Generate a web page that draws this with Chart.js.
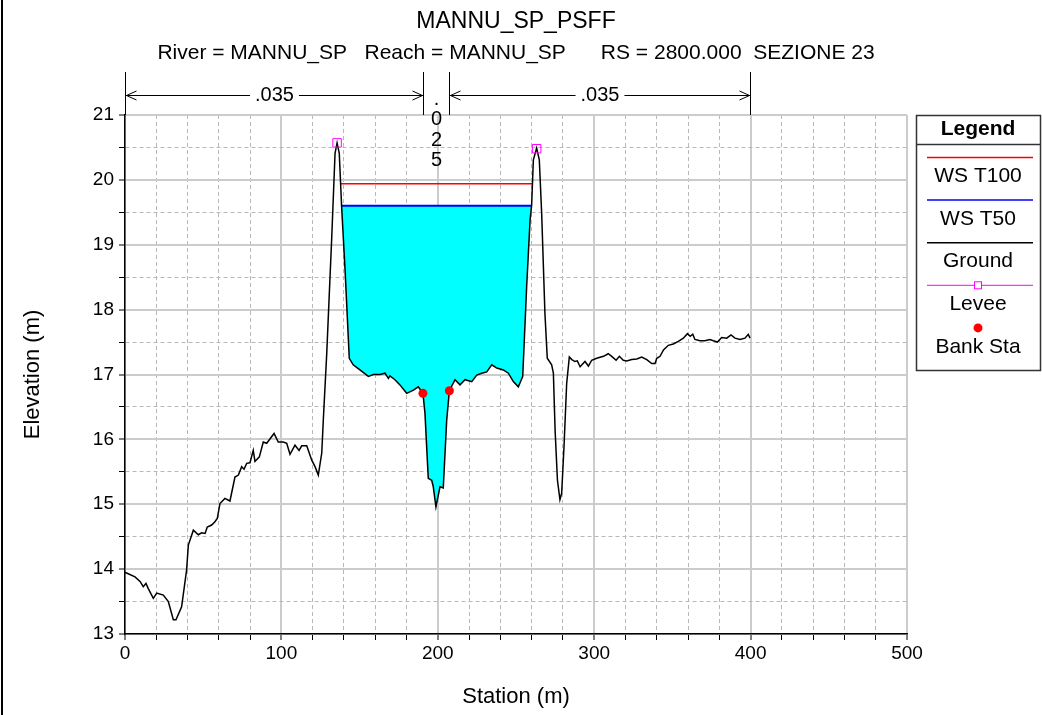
<!DOCTYPE html>
<html>
<head>
<meta charset="utf-8">
<script src="https://cdn.jsdelivr.net/npm/chart.js@4.4.0/dist/chart.umd.min.js"></script>
<style>
html,body{margin:0;padding:0;background:#fff;}
canvas{display:block;}
</style>
</head>
<body>
<canvas id="c" width="1042" height="715"></canvas>
<script>
// cross section MANNU_SP, RS 2800 (station m / elevation m)
const groundSta = [0,1,6.4,9.6,11.7,13.4,14.9,18.1,20.3,24.5,27.7,30.9,32.6,36.2,39.4,40.5,43.7,46.9,49,51.2,
  52.6,55.4,57.5,59,60.7,63.9,67.1,70.3,72.5,74.6,76.1,77.8,79.9,82,83.1,85.9,88.4,90.6,95.3,98,
  101.2,103.4,105.5,108.7,111.3,113,116.2,119.4,121.5,123.6,125.8,126.8,129,131.1,132.2,134.3,135.6,137,138.5,140.7,
  143.4,145.9,150.2,155.6,158.8,163,166.2,168.4,169.4,172.6,175.8,180.1,184.4,187.5,190.5,191.8,193.9,196.1,197.1,198.8,
  201.4,203.5,205.7,207.4,211,214.2,217.4,221.7,224.9,228.1,231.3,234.5,237.7,241.9,245.1,248.3,251.5,254.3,256.8,259,
  260,261.1,263.2,264.9,266.4,268.5,270,272.8,273.9,275,276.5,278.1,279.2,280.7,282.4,284.1,285.7,287.7,289.2,291,
  294.1,296.3,298.4,301.6,305.9,309,311.2,314,316.1,318.6,320.8,324,327.2,330.4,333.6,336.8,338.9,340,342.1,344.3,
  347.4,350.6,353.8,357,359.6,361.4,363,364.4,367.6,370.8,374,376.2,378.8,381.5,384.7,387.5,390,393.2,396.4,398.5,399.6];
const groundElev = [13.95,13.94,13.88,13.81,13.73,13.78,13.70,13.55,13.63,13.60,13.50,13.22,13.22,13.42,13.99,14.37,14.60,14.53,14.56,14.55,
  14.65,14.68,14.73,14.78,15.01,15.09,15.05,15.42,15.45,15.58,15.54,15.63,15.64,15.83,15.66,15.73,15.96,15.94,16.09,15.96,
  15.96,15.94,15.77,15.91,15.83,15.90,15.90,15.68,15.58,15.45,15.79,16.30,17.33,18.51,19.12,20.41,20.57,20.41,19.59,18.61,
  17.25,17.15,17.07,16.97,17.00,17.00,17.02,16.94,16.98,16.92,16.84,16.71,16.76,16.81,16.71,16.40,15.40,15.37,15.27,14.96,
  15.27,15.25,16.30,16.75,16.92,16.84,16.92,16.89,16.99,17.02,17.04,17.15,17.10,17.07,17.02,16.89,16.81,16.97,18.35,19.38,
  19.61,20.31,20.49,20.31,19.49,17.94,17.25,17.15,17.02,16.14,15.37,15.07,15.17,15.89,16.86,17.27,17.23,17.20,17.21,17.12,
  17.20,17.13,17.22,17.25,17.28,17.32,17.28,17.22,17.28,17.22,17.21,17.23,17.24,17.27,17.23,17.17,17.17,17.25,17.28,17.38,
  17.45,17.47,17.51,17.56,17.63,17.59,17.62,17.54,17.52,17.52,17.54,17.52,17.50,17.57,17.56,17.61,17.56,17.54,17.56,17.62,17.56];

const wsT100Elev = 19.94, wsT100Sta = [137.9, 260.6];
const wsT50Elev = 19.60, wsT50Sta = [138.5, 260.0];
const leveeSta = [135.6, 263.2], leveeElev = [20.57, 20.48];
const bankSta = [190.5, 207.4], bankElev = [16.71, 16.75];
const nBreaks = [0, 190.5, 207.4, 399.6];
const nValues = ['.035', '.025', '.035'];
const titleText = 'MANNU_SP_PSFF';
const subtitleText = 'River = MANNU_SP   Reach = MANNU_SP      RS = 2800.000  SEZIONE 23';

const FONT = '"Liberation Sans", Arial, sans-serif';

const pts = (xs, ys) => xs.map((x, i) => ({x, y: ys[i]}));
const ground = pts(groundSta, groundElev);

// wetted polygon under WS T50
const wet = ground.filter(p => p.x >= wsT50Sta[0] && p.x <= wsT50Sta[1]);
wet.push({x: wsT50Sta[1], y: wsT50Elev}, {x: wsT50Sta[0], y: wsT50Elev});

const datasets = [
  {label:'Bank Sta', data: pts(bankSta, bankElev), showLine:false, pointStyle:'circle',
   pointRadius:4.5, backgroundColor:'#ff0000', borderColor:'#ff0000', borderWidth:0},
  {label:'Levee', data: pts(leveeSta, leveeElev), showLine:false, pointStyle:'rect',
   pointRadius:6, backgroundColor:'rgba(0,0,0,0)', borderColor:'#ff00ff', borderWidth:1},
  {label:'Ground', data: ground, showLine:true, borderColor:'#000', borderWidth:1.5, pointRadius:0},
  {label:'WS T50', data: pts(wsT50Sta, [wsT50Elev, wsT50Elev]), showLine:true, borderColor:'#0000ff', borderWidth:2, pointRadius:0},
  {label:'WS T100', data: pts(wsT100Sta, [wsT100Elev, wsT100Elev]), showLine:true, borderColor:'#ff0000', borderWidth:1.5, pointRadius:0},
  {label:'', data: wet, showLine:true, fill:'shape', backgroundColor:'#00ffff', borderWidth:0, pointRadius:0}
];

const legendOrder = ['WS T100', 'WS T50', 'Ground', 'Levee', 'Bank Sta'];

const extras = {
  id:'extras',
  afterDraw(chart){
    const {ctx, chartArea:ca, scales:{x}} = chart;
    ctx.save();
    // left frame
    ctx.fillStyle='#000';
    ctx.fillRect(1,0,2,715);
    // titles
    const cx = (ca.left + ca.right) / 2;
    ctx.textAlign='center'; ctx.textBaseline='middle';
    ctx.font = '23px ' + FONT;
    ctx.fillText(titleText, cx, 22);
    ctx.font = '21px ' + FONT;
    ctx.fillText(subtitleText, cx, 53);

    // manning's n
    ctx.strokeStyle='#000'; ctx.lineWidth=1;
    ctx.font = '20px ' + FONT;
    const yA = 95;
    const px = nBreaks.map(v => Math.round(x.getPixelForValue(v)) + 0.5);
    px.forEach(p => { ctx.beginPath(); ctx.moveTo(p, 72); ctx.lineTo(p, ca.top); ctx.stroke(); });
    nValues.forEach((t, i) => {
      const a = px[i], b = px[i+1], w = ctx.measureText(t).width;
      if (b - a > w + 40) {
        const c = (a + b) / 2;
        ctx.fillText(t, c, yA);
        ctx.beginPath();
        ctx.moveTo(a, yA+0.5); ctx.lineTo(c - w/2 - 5, yA+0.5);
        ctx.moveTo(c + w/2 + 5, yA+0.5); ctx.lineTo(b, yA+0.5);
        ctx.moveTo(a+11, yA-4); ctx.lineTo(a+1, yA+0.5); ctx.lineTo(a+11, yA+5);
        ctx.moveTo(b-11, yA-4); ctx.lineTo(b-1, yA+0.5); ctx.lineTo(b-11, yA+5);
        ctx.stroke();
      } else {
        const c = (a + b) / 2;
        t.split('').forEach((ch, k) => ctx.fillText(ch, c, 99 + k*20.5));
      }
    });

    // legend box
    const L = 916, R = 1040, T = 115, B = 370;
    ctx.lineWidth = 1.5; ctx.strokeStyle = '#333';
    ctx.strokeRect(L+0.5, T+0.5, R-L, B-T);
    ctx.beginPath(); ctx.moveTo(L, 144.5); ctx.lineTo(R, 144.5); ctx.stroke();
    ctx.fillStyle='#000';
    ctx.font = 'bold 21px ' + FONT;
    ctx.fillText('Legend', (L+R)/2, 129);
    ctx.font = '21px ' + FONT;
    const mid = (L+R)/2;
    legendOrder.forEach((name, i) => {
      const ds = chart.data.datasets.find(d => d.label === name);
      const ym = 157.5 + i*42.6;
      if (ds.showLine) {
        ctx.strokeStyle = ds.borderColor; ctx.lineWidth = 1.5;
        ctx.beginPath(); ctx.moveTo(927, ym); ctx.lineTo(1033, ym); ctx.stroke();
      } else if (ds.pointStyle === 'rect') {
        ctx.strokeStyle = ds.borderColor; ctx.lineWidth = 1;
        ctx.beginPath(); ctx.moveTo(927, ym); ctx.lineTo(1033, ym); ctx.stroke();
        ctx.fillStyle = '#fff';
        ctx.fillRect(mid-4, ym-4, 8, 8);
        ctx.strokeRect(mid-3.5, ym-3.5, 7, 7);
      } else {
        ctx.fillStyle = ds.backgroundColor;
        ctx.beginPath(); ctx.arc(mid, ym, 4.5, 0, Math.PI*2); ctx.fill();
      }
      ctx.fillStyle = '#000';
      ctx.fillText(name, mid, ym + 19);
    });
    ctx.restore();
  }
};

new Chart(document.getElementById('c'), {
  type: 'scatter',
  data: {datasets},
  plugins: [extras],
  options: {
    responsive: false,
    animation: false,
    devicePixelRatio: 1,
    layout: {padding: {top:115, right:135, bottom:0, left:0}},
    plugins: {legend:{display:false}, tooltip:{enabled:false}, title:{display:false}},
    elements: {line:{tension:0}},
    scales: {
      x: {
        type:'linear', min:0, max:500,
        afterFit(s){ s.height = 81; },
        ticks:{stepSize:20, autoSkip:false, maxRotation:0, padding:2, color:'#000',
          font:{family:FONT, size:19},
          callback: v => v % 100 === 0 ? String(v) : ''},
        grid:{color: c => c.tick && c.tick.value % 100 === 0 ? '#cccccc' : '#b8b8b8',
          lineWidth: c => c.tick && c.tick.value % 100 === 0 ? 2 : 1,
          tickColor:'#000', tickLength:6, tickWidth:1},
        border:{color:'#000', width:1.5, dash: c => c.tick && c.tick.value % 100 !== 0 ? [4,3] : []},
        title:{display:true, text:'Station (m)', color:'#000', font:{family:FONT, size:22}, padding:{top:0, bottom:5}}
      },
      y: {
        type:'linear', min:13, max:21,
        afterFit(s){ s.width = 125; },
        ticks:{stepSize:0.5, autoSkip:false, padding:5, color:'#000',
          font:{family:FONT, size:19},
          callback: v => Number.isInteger(v) ? String(v) : ''},
        grid:{color: c => c.tick && Number.isInteger(c.tick.value) ? '#cccccc' : '#b8b8b8',
          lineWidth: c => c.tick && Number.isInteger(c.tick.value) ? 2 : 1,
          tickColor:'#000', tickLength:6, tickWidth:1},
        border:{color:'#000', width:1.5, dash: c => c.tick && !Number.isInteger(c.tick.value) ? [4,3] : []},
        title:{display:true, text:'Elevation (m)', color:'#000', font:{family:FONT, size:22}, padding:{top:20, bottom:0}}
      }
    }
  }
});
</script>
</body>
</html>
